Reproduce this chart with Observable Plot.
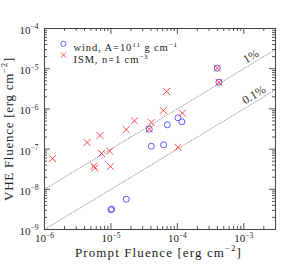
<!DOCTYPE html>
<html><head><meta charset="utf-8">
<script src="https://cdn.jsdelivr.net/npm/d3@7"></script>
<script src="https://cdn.jsdelivr.net/npm/@observablehq/plot@0.6"></script>
<style>
html,body{margin:0;padding:0;background:#fff;}
#chart svg{display:block;}
</style></head><body><div id="chart"></div>
<script>
// wind model (blue circles)
const windPrompt = [1.0e-5, 1.03e-5, 1.70e-5, 3.78e-5, 4.05e-5, 6.2e-5, 7.05e-5, 1.02e-4, 1.17e-4, 3.99e-4, 4.22e-4];
const windVHE    = [3.1e-9, 3.2e-9, 5.67e-9, 3.13e-7, 1.18e-7, 1.28e-7, 4.02e-7, 6.01e-7, 4.78e-7, 1.03e-5, 4.61e-6];
// ISM model (red crosses)
const ismPrompt = [1.32e-6, 4.37e-6, 6.86e-6, 5.52e-6, 5.73e-6, 7.21e-6, 9.6e-6, 9.86e-6, 1.70e-5, 2.26e-5, 4.05e-5, 3.78e-5, 6.14e-5, 6.87e-5, 1.19e-4, 1.02e-4, 3.99e-4, 4.22e-4];
const ismVHE    = [5.8e-8, 1.46e-7, 2.18e-7, 3.76e-8, 3.39e-8, 7.78e-8, 8.87e-8, 3.69e-8, 3.07e-7, 5.06e-7, 4.59e-7, 3.13e-7, 9.12e-7, 2.71e-6, 7.82e-7, 1.11e-7, 1.03e-5, 4.61e-6];
// reference efficiency lines
const line1Prompt = [1e-6, 3e-3];
const line1VHE    = [1e-8, 3e-5];
const line01Prompt = [1e-6, 3e-3];
const line01VHE    = [1e-9, 3e-6];
const refLabels = ["1%", "0.1%"];
const refLabelPrompt = [1.28e-3, 1.42e-3];
const refLabelVHE = [1.28e-5, 1.42e-6];
// ticks
const xTickValues = [1e-6, 1e-5, 1e-4, 1e-3];
const yTickValues = [1e-9, 1e-8, 1e-7, 1e-6, 1e-5, 1e-4];
const minorMultipliers = [2, 3, 4, 5, 6, 7, 8, 9];
// texts
const legendLabels = ["wind, A=10^{11} g cm^{−1}", "ISM, n=1 cm^{−3}"];
const xLabel = "Prompt Fluence [erg cm^{−2}]";
const yLabel = "VHE Fluence [erg cm^{−2}]";

const blue = "#5c5cff", red = "#ff4848";
const W = 281, H = 268, mL = 44, mR = 6, mT = 28, mB = 39;
const plotW = W - mL - mR, plotH = H - mT - mB;
const xMinor = xTickValues.flatMap(d => minorMultipliers.map(m => m * d)).filter(v => v < 2.9e-3);
const yMinor = yTickValues.slice(0, -1).flatMap(d => minorMultipliers.map(m => m * d));
const fmt = d => `10^{${String(Math.round(Math.log10(d))).replace("-", "−")}}`;
const tickStroke = "#555";
const majLen = 6, minLen = 3;

const chart = Plot.plot({
  width: W, height: H,
  marginLeft: mL, marginRight: mR, marginTop: mT, marginBottom: mB,
  style: {fontFamily: "'Liberation Serif', 'DejaVu Serif', serif", fontSize: "11px", background: "#fff", color: "#222"},
  x: {type: "log", domain: [1e-6, 3e-3]},
  y: {type: "log", domain: [1e-9, 1e-4]},
  marks: [
    // reference lines
    Plot.line(line1Prompt.map((p, i) => [p, line1VHE[i]]), {x: d => d[0], y: d => d[1], stroke: "#999", strokeWidth: 1, strokeDasharray: "1,1.8"}),
    Plot.line(line01Prompt.map((p, i) => [p, line01VHE[i]]), {x: d => d[0], y: d => d[1], stroke: "#999", strokeWidth: 1, strokeDasharray: "1,1.8"}),
    Plot.text(refLabels.map((t, i) => ({t, x: refLabelPrompt[i], y: refLabelVHE[i]})), {x: "x", y: "y", text: "t", rotate: -31.2, dy: -8, fontSize: 12, fill: "#333"}),
    // ticks (inward, all four sides)
    Plot.tickX(xTickValues, {x: d => d, insetTop: plotH - majLen, stroke: tickStroke}),
    Plot.tickX(xTickValues, {x: d => d, insetBottom: plotH - majLen, stroke: tickStroke}),
    Plot.tickX(xMinor, {x: d => d, insetTop: plotH - minLen, stroke: tickStroke}),
    Plot.tickX(xMinor, {x: d => d, insetBottom: plotH - minLen, stroke: tickStroke}),
    Plot.tickY(yTickValues, {y: d => d, insetRight: plotW - majLen, stroke: tickStroke}),
    Plot.tickY(yTickValues, {y: d => d, insetLeft: plotW - majLen, stroke: tickStroke}),
    Plot.tickY(yMinor, {y: d => d, insetRight: plotW - minLen, stroke: tickStroke}),
    Plot.tickY(yMinor, {y: d => d, insetLeft: plotW - minLen, stroke: tickStroke}),
    // tick labels
    Plot.axisX(xTickValues, {anchor: "bottom", tickSize: 0, tickPadding: 5, tickFormat: fmt, label: null, fontSize: 11}),
    Plot.axisY(yTickValues, {anchor: "left", tickSize: 0, tickPadding: 6, tickFormat: fmt, label: null, fontSize: 11, dy: 2}),
    // data
    Plot.dot(windPrompt.map((p, i) => [p, windVHE[i]]), {x: d => d[0], y: d => d[1], r: 3, symbol: "circle", stroke: blue, strokeWidth: 1}),
    Plot.dot(ismPrompt.map((p, i) => [p, ismVHE[i]]), {x: d => d[0], y: d => d[1], r: 3.2, symbol: "times", stroke: red, strokeWidth: 1}),
    // legend
    Plot.dot([0], {frameAnchor: "top-left", dx: 19, dy: 15.3, r: 2.6, symbol: "circle", stroke: blue, strokeWidth: 1}),
    Plot.dot([0], {frameAnchor: "top-left", dx: 19, dy: 26.5, r: 2.4, symbol: "times", stroke: red, strokeWidth: 1}),
    Plot.text([legendLabels[0]], {frameAnchor: "top-left", dx: 29, dy: 15.5, text: d => d, textAnchor: "start", fontSize: 10.5, fill: "#222"}),
    Plot.text([legendLabels[1]], {frameAnchor: "top-left", dx: 29, dy: 27, text: d => d, textAnchor: "start", fontSize: 10.5, fill: "#222"}),
    // axis titles
    Plot.text([xLabel], {frameAnchor: "bottom", dy: 27, text: d => d, fontSize: 13, fill: "#222"}),
    Plot.text([yLabel], {frameAnchor: "left", dx: -36, rotate: -90, text: d => d, fontSize: 13, fill: "#222"}),
    Plot.frame({stroke: "#444", strokeWidth: 1})
  ]
});
document.getElementById("chart").appendChild(chart);

const spacing = new Map([[legendLabels[0], "0.9px"], [legendLabels[1], "0.9px"]]);
let xTitleEl = null, yTitleEl = null;
function applySuperscripts(svg) {
  svg.querySelectorAll("text").forEach(t => {
    const s = t.textContent;
    if (s === xLabel) xTitleEl = t;
    if (s === yLabel) yTitleEl = t;
    if (spacing.has(s)) t.style.letterSpacing = spacing.get(s);
    if (!s.includes("^{")) return;
    const fs = parseFloat(getComputedStyle(t).fontSize) || 11;
    const parts = s.split(/(\^\{[^}]*\})/);
    while (t.firstChild) t.removeChild(t.firstChild);
    let raised = false;
    parts.forEach(p => {
      if (!p) return;
      const ts = document.createElementNS("http://www.w3.org/2000/svg", "tspan");
      if (p.startsWith("^{")) {
        ts.textContent = p.slice(2, -1);
        ts.setAttribute("font-size", (fs * 0.68) + "px");
        ts.setAttribute("dy", (-fs * 0.42) + "px");
        raised = true;
      } else {
        ts.textContent = p;
        if (raised) { ts.setAttribute("dy", (fs * 0.42) + "px"); raised = false; }
      }
      t.appendChild(ts);
    });
  });
}
applySuperscripts(chart);

// fit axis titles to the reference's extent and centre them along their axis
function fitTitle(el, target, horizontal, centre) {
  if (!el) return;
  const svgBox = chart.getBoundingClientRect();
  const n = el.textContent.length;
  let b = el.getBoundingClientRect();
  const len = horizontal ? b.width : b.height;
  const ls = Math.max(-0.5, Math.min(1.5, (target - len) / n));
  el.style.letterSpacing = ls + "px";
  b = el.getBoundingClientRect();
  const shift = horizontal ? centre - (b.left - svgBox.left + b.width / 2) : centre - (b.top - svgBox.top + b.height / 2);
  const tr = el.getAttribute("transform") || "";
  el.setAttribute("transform", (horizontal ? `translate(${shift},0) ` : `translate(0,${shift}) `) + tr);
}
fitTitle(xTitleEl, 167, true, 158.5);
fitTitle(yTitleEl, 144, false, 129);
</script></body></html>
